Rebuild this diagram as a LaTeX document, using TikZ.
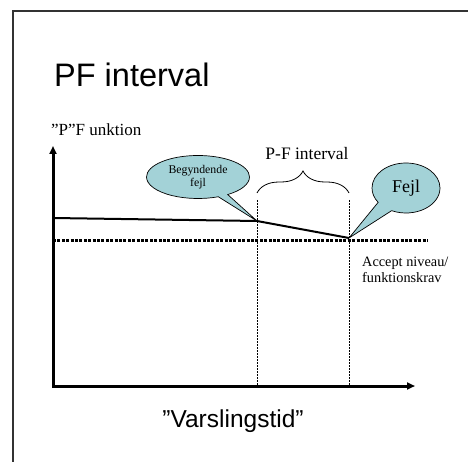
\documentclass[tikz,border=0pt]{standalone}
\usepackage{fontspec}
\setmainfont{Liberation Serif}
\newfontfamily\arialfont{Liberation Sans}
\usetikzlibrary{arrows.meta,shapes.callouts,decorations.pathreplacing}
\definecolor{balloonblue}{RGB}{163,210,215}

\begin{document}
\begin{tikzpicture}[x=1pt,y=-1pt,
        axis/.style={line width=3pt},
        guide/.style={line width=0.8pt,dash pattern=on 2pt off 1pt},
        balloon/.style={ellipse callout,draw,line width=0.7pt,fill=balloonblue,inner sep=0pt,align=center}]
        \useasboundingbox (0,0) rectangle (468,462);

        % Draw the frame
        \draw[line width=1.6pt,draw=black!80] (13,462) -- (13,11) -- (468,11);

        % Define points
        \coordinate (ytop) at (53,146);
        \coordinate (o) at (53,386);
        \coordinate (xend) at (415,386);
        \coordinate (s) at (53,218);
        \coordinate (b) at (257,221);
        \coordinate (f) at (349,238);
        \coordinate (acc1) at (53,241);
        \coordinate (acc2) at (428,241);
        \coordinate (b1) at (257,200);
        \coordinate (b2) at (257,386);
        \coordinate (f1) at (349,200);
        \coordinate (f2) at (349,386);

        % Draw texts
        \node[anchor=base west,inner sep=0pt,font=\arialfont\fontsize{32.5}{36}\selectfont] (title) at (54,87) {PF interval};
        \node[anchor=base west,inner sep=0pt,font=\fontsize{17}{20}\selectfont] (ylabel) at (51,136) {”P”F unktion};
        \node[anchor=base,inner sep=0pt,font=\fontsize{17.5}{20}\selectfont] (pf) at (307,160) {P-F interval};
        \node[anchor=base west,inner sep=0pt,align=left,font=\fontsize{14.3}{15.5}\selectfont] (accept) at (362,282) {Accept niveau/\\funktionskrav};
        \node[anchor=base,inner sep=0pt,font=\arialfont\fontsize{24.5}{28}\selectfont] (xlabel) at (233,427) {”Varslingstid”};

        % Draw the axes
        \draw[axis,{Triangle[length=8pt,width=7pt]}-{Triangle[length=8pt,width=7pt]}] (ytop) -- (o) -- (xend);

        % Draw the interval
        \draw[guide] (b1) -- (b2);
        \draw[guide] (f1) -- (f2);
        \draw[decorate,decoration={brace,amplitude=22pt},line width=0.8pt] (257,193) -- (349,193);
        \draw[line width=3pt,dash pattern=on 3pt off 1.4pt] (acc1) -- (acc2);
        \draw[line width=2pt] (s) -- (b) -- (f);

        % Draw the balloons
        \node[balloon,minimum width=103pt,minimum height=43pt,callout absolute pointer={(b)},callout pointer arc=12,
            font=\fontsize{11.8}{12.8}\selectfont] (begynd) at (198,177) {Begyndende\\fejl};
        \node[balloon,minimum width=68pt,minimum height=50pt,callout absolute pointer={(f)},callout pointer arc=30,
            font=\fontsize{18}{20}\selectfont] (fejl) at (406,188) {Fejl};
    \end{tikzpicture}
\end{document}
